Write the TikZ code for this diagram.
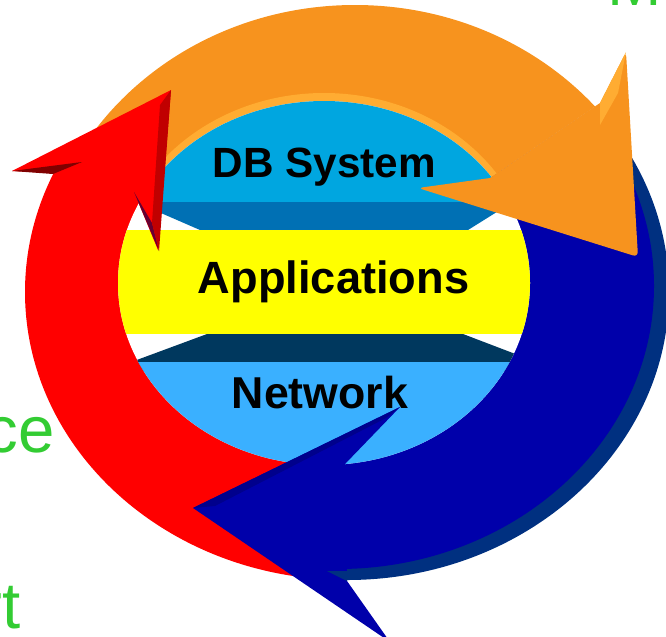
\documentclass[tikz,border=0pt]{standalone}
\usepackage{fontspec}
\setmainfont{Liberation Sans}
\usepackage{tikz}
\tikzset{every picture/.style={line width=0.75pt}}

\begin{document}
\begin{tikzpicture}[x=0.75pt,y=0.75pt,yscale=-1,xscale=1,
		orangefill/.style={fill={rgb, 255:red, 247; green, 147; blue, 30 }},
		lightorangefill/.style={fill={rgb, 255:red, 255; green, 172; blue, 50 }},
		bluefill/.style={fill={rgb, 255:red, 0; green, 0; blue, 170 }},
		navyfill/.style={fill={rgb, 255:red, 0; green, 48; blue, 128 }},
		redfill/.style={fill={rgb, 255:red, 255; green, 0; blue, 0 }},
		disklabel/.style={anchor=base, inner sep=0pt, font=\bfseries\fontsize{#1}{#1}\selectfont},
		sidelabel/.style={inner sep=0pt, text={rgb, 255:red, 51; green, 204; blue, 51 }, font=\fontsize{49}{49}\selectfont}]
		\useasboundingbox (0,0) rectangle (666,636);
		\clip (0,0) rectangle (666,636);
		
		%Shape: Arc [id:orange ring]
		\begin{scope}
			\clip (335,284) -- (700,35) -- (700,-60) -- (-60,-60) -- (-60,160) -- cycle;
			\fill [orangefill] (355,300) ellipse [x radius=318, y radius=295];
			\fill [lightorangefill] (324,280) ellipse [x radius=210, y radius=187];
		\end{scope}
		%Shape: Arc [id:blue ring]
		\begin{scope}
			\clip (335,284) -- (760,-5) -- (760,700) -- (349,700) -- cycle;
			\fill [navyfill] (347,292) ellipse [x radius=322, y radius=288];
			\fill [bluefill] (338,286) ellipse [x radius=316, y radius=283];
		\end{scope}
		%Shape: Arc [id:red ring]
		\begin{scope}
			\clip (349,700) -- (335,286) -- (136,188) -- (-60,140) -- (-60,700) -- cycle;
			\fill [redfill] (347,292) ellipse [x radius=322, y radius=288];
		\end{scope}
		
		%Shape: Ellipse [id:layer disk]
		\begin{scope}
			\clip (324,283) ellipse [x radius=206, y radius=182];
			\fill [white] (100,80) rectangle (550,480);
			\fill [color={rgb, 255:red, 0; green, 112; blue, 180 }] (108,190) -- (532,190) -- (468,230) -- (200,230) -- cycle;
			\fill [color={rgb, 255:red, 0; green, 166; blue, 224 }] (100,80) rectangle (550,202);
			\fill [color={rgb, 255:red, 255; green, 255; blue, 0 }] (100,230) rectangle (550,334);
			\fill [color={rgb, 255:red, 0; green, 56; blue, 94 }] (207,334) -- (463,334) -- (560,371) -- (107,371) -- cycle;
			\fill [color={rgb, 255:red, 58; green, 176; blue, 255 }] (100,362) rectangle (550,480);
		\end{scope}
		
		%Shape: Polygon [id:red head]
		\fill [redfill] (171,90) -- (158,250) -- (134,192) -- (53,173) -- (12,171) -- cycle;
		\fill [color={rgb, 255:red, 102; green, 0; blue, 51 }] (134,192) -- (159,251) -- (152,223) -- cycle;
		\fill [color={rgb, 255:red, 192; green, 0; blue, 0 }] (171,90) -- (159,251) -- (152,223) -- (160,105) -- cycle;
		\fill [color={rgb, 255:red, 128; green, 0; blue, 0 }] (12,171) -- (82,162) -- (53,174) -- cycle;
		%Shape: Polygon [id:orange head]
		\fill [orangefill] (626,52) -- (600,103) -- (490,178) [rounded corners=4pt] -- (418,188) -- (638,257) -- cycle;
		\fill [lightorangefill] (626,52) -- (600,103) -- (600,125) -- (618,93) -- cycle;
		%Shape: Polygon [id:blue head]
		\fill [bluefill] (193,508) -- (400,407) -- (345,464) -- (347,581) -- (390,642) -- cycle;
		\fill [color={rgb, 255:red, 0; green, 0; blue, 140 }] (193,508) -- (400,407) -- (386,418) -- (215,506) -- cycle;
		\fill [navyfill] (327,571) -- (350,571) -- (347,581) -- cycle;
		
		% Text Node
		\draw (324.5,177) node (dbsystem) [disklabel=31.7] {DB System};
		% Text Node
		\draw (333.5,293) node (applications) [disklabel=33.9] {Applications};
		% Text Node
		\draw (320,408) node (network) [disklabel=33.5] {Network};
		% Text Node
		\draw (607,5) node (mside) [anchor=base west][sidelabel] {M};
		% Text Node
		\draw (55,452) node (ceside) [anchor=base east][sidelabel] {ce};
		% Text Node
		\draw (21,628) node (rtside) [anchor=base east][sidelabel] {rt};
		
	\end{tikzpicture}
\end{document}
